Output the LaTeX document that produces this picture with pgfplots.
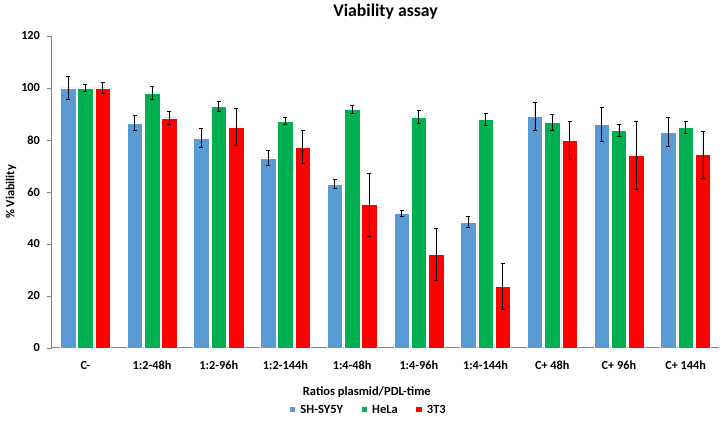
\documentclass[border=0pt]{standalone}
\usepackage{fontspec}
\setmainfont{Carlito}
\usepackage{pgfplots}
\usepackage{pgfplotstable}
\pgfplotsset{compat=1.18}
\definecolor{cblue}{HTML}{5B9BD5}
\definecolor{cgreen}{HTML}{00B050}
\definecolor{cred}{HTML}{FF0000}
\definecolor{axgray}{HTML}{808080}
\newcommand{\lf}{\fontsize{12.5}{14}\selectfont\bfseries}
\pgfplotstableread{
x sh she he hee tt tte
0 100 4.3 100 1.4 100 2.0
1 86.6 2.8 98.1 2.4 88.5 2.5
2 80.8 3.6 93.0 2.0 85.0 7.0
3 73.1 3.0 87.3 1.4 77.3 6.4
4 63.1 1.9 91.9 1.5 55.1 12.0
5 51.9 1.1 88.9 2.6 36.1 10.0
6 48.5 2.2 88.0 2.3 23.7 9.0
7 89.0 5.3 86.8 3.0 79.9 7.3
8 86.0 6.5 83.7 2.2 74.1 13.0
9 83.0 5.5 84.9 2.3 74.4 9.0
}\data
\begin{document}
\begin{tikzpicture}
\begin{axis}[
  width=667pt, height=312pt, scale only axis,
  at={(0,0)}, anchor=south west,
  xmin=-0.5, xmax=9.5, ymin=0, ymax=120,
  ybar=1.8pt, bar width=15.5pt,
  axis lines=left,
  axis line style={-, draw=axgray, line width=1pt},
  xtick={0,...,9},
  xticklabels={C-,1:2-48h,1:2-96h,1:2-144h,1:4-48h,1:4-96h,1:4-144h,C+ 48h,C+ 96h,C+ 144h},
  x tick style={draw=none},
  ytick={0,20,...,120},
  y tick style={draw=axgray, line width=0.8pt},
  tick align=outside, major tick length=4.5pt,
  /pgf/number format/assume math mode=true,
  tick label style={font=\fontsize{12.3}{14}\selectfont\bfseries},
  xticklabel style={yshift=-5pt},
  yticklabel style={xshift=-4pt},
  title={Viability assay},
  title style={font=\fontsize{17.7}{20}\selectfont\bfseries, at={(axis description cs:0.5,1)}, anchor=center, yshift=18pt},
  ylabel={\% Viability},
  ylabel style={font=\fontsize{12.3}{14}\selectfont\bfseries, at={(axis description cs:-0.0615,0.5)}, anchor=center},
  xlabel={Ratios plasmid/PDL-time},
  xlabel style={font=\fontsize{12.5}{14}\selectfont\bfseries, at={(axis description cs:0.472,-0.141)}, anchor=center},
  legend columns=3,
  legend style={draw=none, fill=none, at={(axis description cs:0.475,-0.198)}, anchor=center,
    font=\lf},
  legend image code/.code={\fill[#1,draw=none] (0pt,-2.4pt) rectangle (5.6pt,3.2pt);},
  error bars/y dir=both, error bars/y explicit,
  error bars/error bar style={black, line width=0.9pt},
  error bars/error mark options={black, rotate=90, mark size=2pt, line width=0.8pt},
  clip=false,
]
\addplot[fill=cblue, draw=white, line width=0.5pt] table[x=x, y=sh, y error=she]{\data};
\addplot[fill=cgreen, draw=white, line width=0.5pt] table[x=x, y=he, y error=hee]{\data};
\addplot[fill=cred, draw=white, line width=0.5pt] table[x=x, y=tt, y error=tte]{\data};
\legend{{\lf\hspace*{3pt}SH-SY5Y\rule{16.5pt}{0pt}}, {\lf\hspace*{3pt}HeLa\rule{16.5pt}{0pt}}, {\lf\hspace*{3pt}3T3}}
\end{axis}
\pgfresetboundingbox
\path[use as bounding box] (-52pt,-74pt) rectangle (672pt,348pt);
\end{tikzpicture}
\end{document}
